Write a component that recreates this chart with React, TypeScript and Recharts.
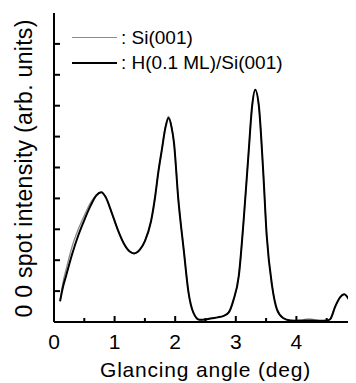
import React from 'react';
import { LineChart, Line, XAxis, YAxis } from 'recharts';

// glancing angle (deg)
const angles = [
  0.1, 0.15, 0.2, 0.3, 0.4, 0.5, 0.6, 0.7, 0.78, 0.85, 0.95, 1.05, 1.15, 1.25, 1.32, 1.42, 1.5,
  1.6, 1.67, 1.72, 1.78, 1.84, 1.89, 1.94, 1.98, 2.05, 2.14, 2.22, 2.3, 2.4, 2.5, 2.6, 2.7, 2.8,
  2.88, 2.96, 3.05, 3.13, 3.21, 3.27, 3.32, 3.38, 3.45, 3.51, 3.6, 3.68, 3.78, 3.9, 4.0, 4.1, 4.2,
  4.3, 4.4, 4.5, 4.56, 4.64, 4.72, 4.79, 4.86, 4.93, 5.0,
];

// 0 0 spot intensity, H(0.1 ML)/Si(001)
const hSi = [
  0.67, 1.15, 1.5, 2.2, 2.8, 3.3, 3.75, 4.1, 4.2, 4.05, 3.55, 3.0, 2.55, 2.28, 2.22, 2.35, 2.62,
  3.25, 4.07, 4.83, 5.58, 6.3, 6.6, 6.3, 5.8, 4.0, 2.35, 0.95, 0.3, 0.07, 0.08, 0.12, 0.15, 0.2,
  0.3, 0.7, 1.5, 3.3, 5.45, 7.0, 7.52, 7.0, 4.95, 2.8, 1.15, 0.4, 0.13, 0.05, 0.04, 0.04, 0.05,
  0.04, 0.04, 0.05, 0.1, 0.5, 0.8, 0.9, 0.75, 0.45, 0.18,
];

// 0 0 spot intensity, clean Si(001)
const si = [
  0.67, 1.3, 1.7, 2.45, 3.0, 3.45, 3.85, 4.12, 4.2, 4.05, 3.55, 3.0, 2.55, 2.28, 2.22, 2.35, 2.62,
  3.25, 4.07, 4.83, 5.58, 6.33, 6.65, 6.33, 5.8, 4.0, 2.35, 0.95, 0.3, 0.07, 0.08, 0.12, 0.15, 0.2,
  0.3, 0.7, 1.5, 3.3, 5.45, 7.0, 7.52, 7.0, 4.95, 2.8, 1.15, 0.4, 0.13, 0.05, 0.05, 0.07, 0.1,
  0.08, 0.04, 0.05, 0.1, 0.5, 0.8, 0.9, 0.75, 0.45, 0.18,
];

const xTicks = [0, 0.5, 1, 1.5, 2, 2.5, 3, 3.5, 4, 4.5, 5];
const yTicks = [1, 2, 3, 4, 5, 6, 7, 8, 9];

const data = angles.map((a, i) => ({ angle: a, hSi: hSi[i], si: si[i] }));

const FONT = '"Liberation Sans", Arial, sans-serif';

const tickLen = (v: number) => (Number.isInteger(v) ? 6 : 4);

const BottomTick = (props: any) => {
  const { x, y, payload } = props;
  const v = payload.value;
  return (
    <g>
      <line x1={x} y1={y} x2={x} y2={y - tickLen(v)} stroke="#000" strokeWidth={2} />
      {Number.isInteger(v) && (
        <text x={x} y={y + 27} textAnchor="middle" fontSize={21} fontFamily={FONT} fill="#000">
          {v}
        </text>
      )}
    </g>
  );
};

const TopTick = (props: any) => {
  const { x, y, payload } = props;
  return <line x1={x} y1={y} x2={x} y2={y + tickLen(payload.value)} stroke="#000" strokeWidth={2} />;
};

const LeftTick = (props: any) => {
  const { x, y } = props;
  return <line x1={x} y1={y} x2={x + 6} y2={y} stroke="#000" strokeWidth={2} />;
};

const RightTick = (props: any) => {
  const { x, y } = props;
  return <line x1={x} y1={y} x2={x - 6} y2={y} stroke="#000" strokeWidth={2} />;
};

// rotated y-axis title, centred on the plot height
const YLabel = (props: any) => {
  const { viewBox } = props;
  const cx = 24;
  const cy = viewBox.y + viewBox.height / 2 + 1;
  return (
    <text
      x={cx}
      y={cy}
      transform={`rotate(-90, ${cx}, ${cy})`}
      textAnchor="middle"
      fontSize={23}
      fontFamily={FONT}
      letterSpacing={0.3}
      fill="#000"
    >
      0 0 spot intensity (arb. units)
    </text>
  );
};

const axisLine = { stroke: '#000', strokeWidth: 2 };

const App: React.FC = () => {
  return (
    <div style={{ width: 348, height: 375, overflow: 'hidden', position: 'relative' }}>
      <LineChart width={352} height={375} data={data} margin={{ top: 5, right: 3, bottom: 0, left: 0 }}>
        <XAxis
          dataKey="angle"
          type="number"
          domain={[0, 5]}
          ticks={xTicks}
          interval={0}
          height={61}
          tickSize={0}
          tickMargin={0}
          tickLine={false}
          tick={<BottomTick />}
          axisLine={axisLine}
          label={{
            value: 'Glancing angle (deg)',
            position: 'insideBottom',
            offset: 6,
            fontSize: 21,
            fontFamily: FONT,
            fill: '#000',
            letterSpacing: 0.8,
          }}
        />
        <XAxis
          xAxisId="top"
          orientation="top"
          dataKey="angle"
          type="number"
          domain={[0, 5]}
          ticks={xTicks.slice(1, -1)}
          interval={0}
          height={0}
          tickSize={0}
          tickMargin={0}
          tickLine={false}
          tick={<TopTick />}
          axisLine={axisLine}
        />
        <YAxis
          type="number"
          domain={[0, 10]}
          ticks={yTicks}
          interval={0}
          width={46}
          tickSize={0}
          tickMargin={0}
          tickLine={false}
          tick={<LeftTick />}
          axisLine={axisLine}
          label={<YLabel />}
        />
        <YAxis
          yAxisId="right"
          orientation="right"
          type="number"
          domain={[0, 10]}
          ticks={yTicks}
          interval={0}
          width={0}
          tickSize={0}
          tickMargin={0}
          tickLine={false}
          tick={<RightTick />}
          axisLine={axisLine}
        />
        <Line
          dataKey="si"
          type="monotone"
          stroke="#8a8a8a"
          strokeWidth={1.3}
          dot={false}
          isAnimationActive={false}
        />
        <Line
          dataKey="hSi"
          type="monotone"
          stroke="#000"
          strokeWidth={2}
          dot={false}
          isAnimationActive={false}
        />
      </LineChart>
      <div style={{ position: 'absolute', left: 64, top: 17, fontFamily: FONT, fontSize: 19, color: '#000', lineHeight: '25px' }}>
        <div style={{ display: 'flex', alignItems: 'center' }}>
          <span style={{ display: 'inline-block', width: 45, height: 0, borderTop: '1.5px solid #8a8a8a', marginRight: 4 }} />
          <span>: Si(001)</span>
        </div>
        <div style={{ display: 'flex', alignItems: 'center' }}>
          <span style={{ display: 'inline-block', width: 45, height: 0, borderTop: '2px solid #000', marginRight: 4 }} />
          <span>: H(0.1 ML)/Si(001)</span>
        </div>
      </div>
    </div>
  );
};

export default App;
